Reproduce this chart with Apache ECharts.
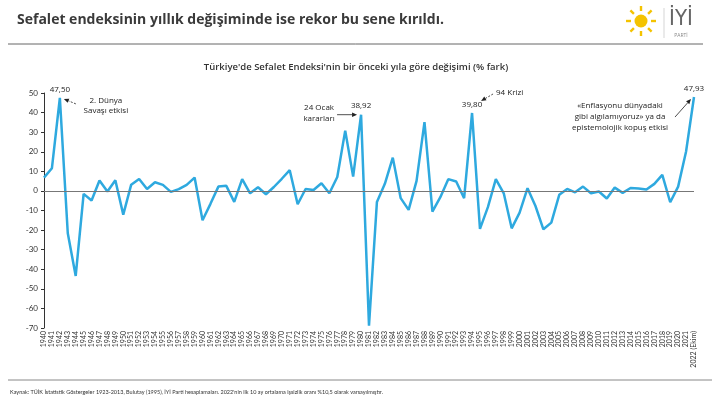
<!DOCTYPE html>
<html>
<head>
<meta charset="utf-8">
<script src="https://cdn.jsdelivr.net/npm/echarts@6/dist/echarts.min.js"></script>
<style>
  html, body { margin: 0; padding: 0; background: #fff; }
  #main { width: 712px; height: 408px; }
</style>
</head>
<body>
<div id="main"></div>
<script>
// yillar
var years = [];
for (var y = 1940; y <= 2021; y++) years.push(String(y));
years.push('2022 (Ekim)');

// sefalet endeksi yillik degisim (% fark)
var change = [
  6.8, 11.6, 47.5, -21.6, -43.4, -1.5, -4.9, 5.3, -0.3, 5.4,
  -12.1, 3.2, 6.1, 1.0, 4.4, 3.1, -0.5, 0.9, 3.1, 6.8,
  -15.0, -6.6, 2.2, 2.6, -5.6, 6.0, -1.2, 1.9, -1.7, 2.0,
  6.2, 10.6, -6.8, 1.0, 0.5, 3.9, -1.2, 7.1, 30.8, 7.3,
  38.92, -68.8, -5.6, 3.6, 17.0, -3.7, -9.7, 5.1, 35.1, -10.6,
  -3.2, 6.0, 4.8, -3.7, 39.8, -19.4, -8.3, 6.0, -1.2, -19.1,
  -11.1, 1.4, -7.7, -19.6, -16.2, -2.0, 1.0, -0.7, 2.2, -1.2,
  -0.3, -3.9, 1.7, -1.0, 1.5, 1.2, 0.7, 3.6, 8.2, -5.8,
  2.2, 20.1, 47.93
];

// etiketli tepe noktalari
var peaks = ['1942', '1980', '1994', '2022 (Ekim)'];

var FONT = '"Open Sans", Lato, sans-serif';
var BLUE = '#2ea9df';

var chart = echarts.init(document.getElementById('main'));

var peakPoints = peaks.map(function (yr) {
  var v = change[years.indexOf(yr)];
  return { coord: [yr, v], value: v.toFixed(2).replace('.', ',') };
});

var option = {
  animation: false,
  textStyle: { fontFamily: FONT },
  title: [{
    text: 'Sefalet endeksinin yıllık değişiminde ise rekor bu sene kırıldı.',
    left: 12, top: 8,
    textStyle: { fontSize: 14, fontWeight: 'bold', color: '#3a3a3a', fontFamily: FONT }
  }, {
    text: "Türkiye'de Sefalet Endeksi'nin bir önceki yıla göre değişimi (% fark)",
    left: 'center', top: 57,
    textStyle: { fontSize: 9.5, fontWeight: 600, color: '#333', fontFamily: FONT }
  }],
  grid: { left: 44, right: 18, top: 93, bottom: 80 },
  xAxis: {
    type: 'category',
    data: years,
    boundaryGap: false,
    axisLine: { show: false },
    axisTick: { show: false },
    axisLabel: { rotate: 90, interval: 0, fontSize: 7, color: '#333', margin: 3, fontFamily: 'Lato, sans-serif' }
  },
  yAxis: {
    type: 'value',
    min: -70, max: 50, interval: 10,
    splitLine: { show: false },
    axisLine: { show: true, lineStyle: { color: '#333', width: 1 } },
    axisTick: { show: true, length: 3, lineStyle: { color: '#333' } },
    axisLabel: { fontSize: 8, color: '#333', margin: 6, fontFamily: 'Lato, sans-serif' }
  },
  series: [{
    type: 'line',
    data: change,
    symbol: 'none',
    lineStyle: { color: BLUE, width: 2.5 },
    itemStyle: { color: BLUE },
    markLine: {
      silent: true,
      symbol: 'none',
      label: { show: false },
      lineStyle: { color: '#777', width: 1, type: 'solid' },
      data: [{ yAxis: 0 }]
    },
    markPoint: {
      silent: true,
      symbol: 'circle',
      symbolSize: 1,
      itemStyle: { color: 'rgba(0,0,0,0)' },
      label: {
        show: true, position: 'top', distance: 4,
        fontSize: 8, color: '#222', fontFamily: FONT,
        formatter: function (p) { return p.value; }
      },
      data: peakPoints
    },
    z: 3
  }]
};

chart.setOption(option);

// ok cizimi: (x1,y1) -> (x2,y2), ucu (x2,y2)
function arrow(x1, y1, x2, y2, dashed) {
  var a = Math.atan2(y2 - y1, x2 - x1), L = 5, W = 2.2;
  var bx = x2 - L * Math.cos(a), by = y2 - L * Math.sin(a);
  var nx = -Math.sin(a) * W, ny = Math.cos(a) * W;
  return [{
    type: 'line',
    shape: { x1: x1, y1: y1, x2: bx, y2: by },
    style: { stroke: '#222', lineWidth: 0.8, lineDash: dashed ? [2, 1.5] : null }
  }, {
    type: 'polygon',
    shape: { points: [[x2, y2], [bx + nx, by + ny], [bx - nx, by - ny]] },
    style: { fill: '#222' }
  }];
}

function note(x, y, text, align) {
  return {
    type: 'text', x: x, y: y,
    style: {
      text: text, fill: '#222', fontSize: 8, fontFamily: FONT,
      align: align || 'center', verticalAlign: 'middle', lineHeight: 11
    }
  };
}

var p42 = chart.convertToPixel({ seriesIndex: 0 }, ['1942', 47.5]);
var p80 = chart.convertToPixel({ seriesIndex: 0 }, ['1980', 38.92]);
var p94 = chart.convertToPixel({ seriesIndex: 0 }, ['1994', 39.8]);
var p22 = chart.convertToPixel({ seriesIndex: 0 }, ['2022 (Ekim)', 47.93]);

var g = [];
// ust ve alt cizgiler
g.push({ type: 'line', shape: { x1: 8, y1: 44, x2: 703, y2: 44 }, style: { stroke: '#666', lineWidth: 1 } });
g.push({ type: 'line', shape: { x1: 8, y1: 380, x2: 712, y2: 380 }, style: { stroke: '#888', lineWidth: 1 } });
// kaynak
g.push({
  type: 'text', x: 10, y: 392,
  style: {
    text: "Kaynak: TÜİK İstatistik Göstergeler 1923-2013, Bulutay (1995), İYİ Parti hesaplamaları. 2022'nin ilk 10 ay ortalama işsizlik oranı %10,5 olarak varsayılmıştır.",
    fill: '#333', fontSize: 5.5, fontFamily: 'Lato, sans-serif', verticalAlign: 'middle'
  }
});

// logo: gunes + IYI PARTI
var sx = 641, sy = 21;
g.push({ type: 'circle', shape: { cx: sx, cy: sy, r: 6.5 }, style: { fill: '#f4c300' } });
for (var k = 0; k < 8; k++) {
  var ang = k * Math.PI / 4;
  g.push({
    type: 'line',
    shape: { x1: sx + Math.cos(ang) * 10, y1: sy + Math.sin(ang) * 10, x2: sx + Math.cos(ang) * 15, y2: sy + Math.sin(ang) * 15 },
    style: { stroke: '#f4c300', lineWidth: 2.4 }
  });
}
g.push({ type: 'line', shape: { x1: 664, y1: 8, x2: 664, y2: 38 }, style: { stroke: '#bbb', lineWidth: 0.6 } });
g.push({ type: 'text', x: 681, y: 19, style: { text: 'İYİ', fill: '#666', fontSize: 22, fontFamily: '"Liberation Sans Narrow", "DejaVu Sans Condensed", sans-serif', align: 'center', verticalAlign: 'middle' } });
g.push({ type: 'text', x: 681, y: 36, style: { text: 'PARTİ', fill: '#888', fontSize: 5, fontFamily: FONT, align: 'center', verticalAlign: 'middle' } });

// notlar
g.push(note(p42[0] + 46, p42[1] + 3, '2. Dünya'));
g.push(note(p42[0] + 46, p42[1] + 13, 'Savaşı etkisi'));
g = g.concat(arrow(p42[0] + 16, p42[1] + 6, p42[0] + 4, p42[1] + 1, true));

g.push(note(p80[0] - 42, p80[1] - 7, '24 Ocak'));
g.push(note(p80[0] - 42, p80[1] + 4, 'kararları'));
g = g.concat(arrow(p80[0] - 24, p80[1], p80[0] - 4, p80[1], false));

g.push(note(p94[0] + 24, p94[1] - 20, '94 Krizi', 'left'));
g = g.concat(arrow(p94[0] + 21, p94[1] - 19, p94[0] + 9, p94[1] - 12, true));

g.push(note(p22[0] - 74, p22[1] + 9, '«Enflasyonu dünyadaki'));
g.push(note(p22[0] - 74, p22[1] + 20, 'gibi algılamıyoruz» ya da'));
g.push(note(p22[0] - 74, p22[1] + 31, 'epistemolojik kopuş etkisi'));
g = g.concat(arrow(p22[0] - 19, p22[1] + 20, p22[0] - 3, p22[1] + 2, false));

chart.setOption({ graphic: g });
</script>
</body>
</html>
